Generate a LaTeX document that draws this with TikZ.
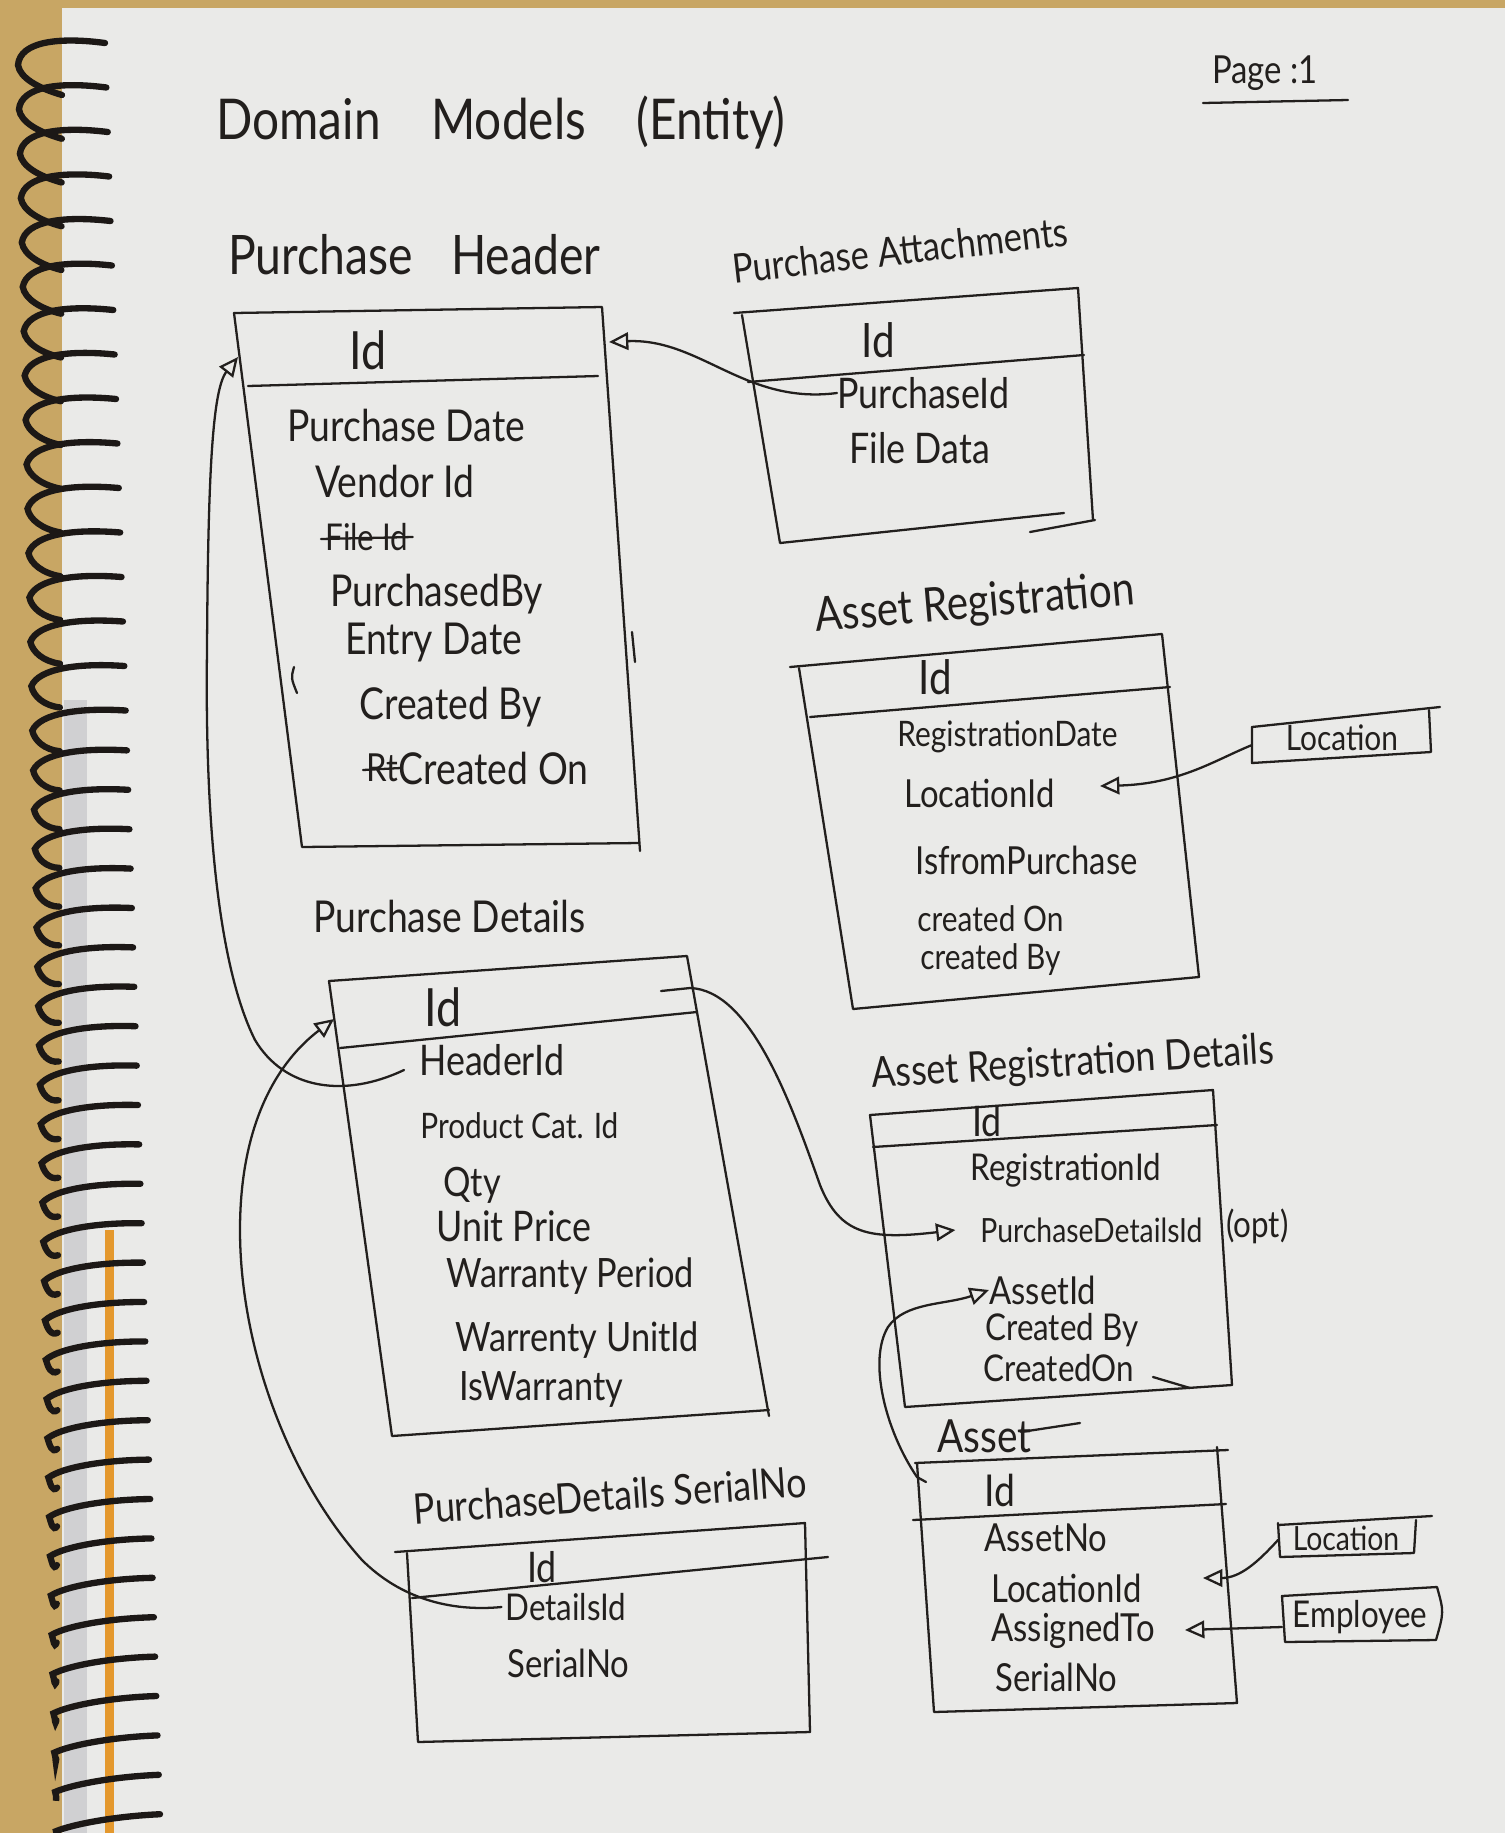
\documentclass[tikz,border=0pt]{standalone}
\usepackage{fontspec}
\setmainfont{Lato}[FakeStretch=0.85]
\usetikzlibrary{arrows.meta,calc}
\definecolor{paper}{RGB}{234,234,232}
\definecolor{card}{RGB}{200,166,100}
\definecolor{strip}{RGB}{208,208,210}
\definecolor{orangeln}{RGB}{228,152,45}
\definecolor{ink}{RGB}{34,31,29}
\definecolor{coilc}{RGB}{28,24,22}
\newcommand\fz[1]{\fontsize{#1}{#1}\selectfont}
\tikzset{
  pen/.style={draw=ink, line width=1.3pt, line cap=round, line join=round},
  conn/.style={pen, -{Triangle[open,length=11pt,width=10pt]}},
  fld/.style={font=\fz{#1}, text=ink, inner sep=0pt, anchor=west},
  fld/.default=23,
  keyid/.style={font=\fz{#1}, text=ink, inner sep=0pt},
  keyid/.default=26,
  lbl/.style={font=\fz{#1}, text=ink, inner sep=0pt},
  lbl/.default=26,
  coil/.style={draw=coilc, line width=3.6pt, line cap=round},
}
\begin{document}
\begin{tikzpicture}[x=0.02cm,y=-0.02cm]
\useasboundingbox (0,0) rectangle (1505,1833);
% ---------- page and binding ----------
\fill[card] (0,0) rectangle (1505,1833);
\fill[paper] (62,8) rectangle (1505,1833);
\fill[strip] (64,700) rectangle (87,1833);
\fill[orangeln] (105,1230) rectangle (114,1833);
\foreach \i in {0,...,43}{
  \pgfmathsetmacro\yy{\i<16 ? 43+44.5*\i : 711+39.4*(\i-15)}
  \pgfmathsetmacro\t{(\yy-43)/1771}
  \pgfmathsetmacro\xh{105+55*\t}
  \pgfmathsetmacro\xl{18+38*\t}
  \pgfmathsetmacro\s{1-\t}
  \draw[coil] (\xh,\yy) .. controls (\xh-45,\yy-6+8*\t) and (\xl+2+15*\t,\yy-2+12*\t) .. (\xl,\yy+22-5*\t)
     .. controls (\xl+2,\yy+22+13*\s) and (\xl+20*\s,\yy+30+15*\s) .. (\xl+44*\s,\yy+22+30*\s);
}
% ---------- headings ----------
\node[lbl=32, anchor=west] (title) at (216,123) {Domain\hspace{0.9em}Models\hspace{0.9em}(Entity)};
\node[lbl=22] (page) at (1265,73) {Page :1};
\coordinate (pg-ul1) at (1203,103);
\coordinate (pg-ul2) at (1348,100);
\draw[pen] (pg-ul1) -- (pg-ul2);

% ---------- Purchase Header ----------
\node[lbl=31, anchor=west] (ph-lbl) at (228,255) {Purchase\hspace{0.7em}Header};
\coordinate (ph-tl) at (234,313);
\coordinate (ph-tr) at (602,307);
\coordinate (ph-br) at (639,843);
\coordinate (ph-bl) at (302,847);
\coordinate (ph-sl) at (248,386);
\coordinate (ph-sr) at (598,376);
\draw[pen] (ph-tl) -- (ph-tr) -- ($(ph-br)+(1,8)$);
\draw[pen] (ph-tl) -- (ph-bl) -- (ph-br);
\draw[pen] (ph-sl) -- (ph-sr);
\draw[pen] (632,632) -- (635,662);
\draw[pen] (294,667) .. controls (291,678) .. (297,693);
\node[keyid=30] (ph-id) at (368,350) {Id};
\node[fld=25] (ph-f1) at (287,425) {Purchase Date};
\node[fld=25] (ph-f2) at (315,481) {Vendor Id};
\node[fld=21] (ph-f3) at (325,537) {File Id};
\draw[pen] ([shift={(-4,2)}]ph-f3.west) -- ([shift={(4,0)}]ph-f3.east);
\node[fld=25] (ph-f4) at (330,594) {PurchasedBy};
\node[fld=25] (ph-f5) at (345,643) {Entry Date};
\node[fld=25] (ph-f6) at (359,707) {Created By};
\node[fld=22] (ph-f7a) at (366,768) {Rt};
\draw[pen] ([shift={(-3,2)}]ph-f7a.west) -- ([shift={(2,0)}]ph-f7a.east);
\node[fld=25, anchor=west] (ph-f7) at (ph-f7a.east) {Created On};
\coordinate (ph-ain) at (609,342);
\coordinate (ph-ainl) at (238,357);

% ---------- Purchase Attachments ----------
\node[lbl=23, rotate=6.5] (pa-lbl) at (900,250) {Purchase Attachments};
\coordinate (pa-tl) at (734,313);
\coordinate (pa-tr) at (1078,288);
\coordinate (pa-br) at (1093,520);
\coordinate (pa-bl) at (780,543);
\draw[pen] (pa-tl) -- (pa-tr) -- (pa-br);
\draw[pen] (742,315) -- (pa-bl) -- (1064,513);
\draw[pen] (1030,532) -- (1095,520);
\draw[pen] (748,382) -- (1084,355);
\node[keyid=27] (pa-id) at (878,340) {Id};
\node[fld=24] (pa-pid) at (837,393) {PurchaseId};
\node[fld=24] (pa-fd) at (849,448) {File Data};

% ---------- Asset Registration ----------
\node[lbl=27, rotate=5] (ar-lbl) at (975,605) {Asset Registration};
\coordinate (ar-tl) at (790,667);
\coordinate (ar-tr) at (1162,634);
\coordinate (ar-br) at (1199,977);
\coordinate (ar-bl) at (853,1009);
\draw[pen] (ar-tl) -- (ar-tr) -- (ar-br);
\draw[pen] (799,668) -- (ar-bl) -- (ar-br);
\draw[pen] (810,717) -- (1170,687);
\node[keyid=27] (ar-id) at (935,677) {Id};
\node[fld=20] (ar-f1) at (897,737) {RegistrationDate};
\node[fld=22] (ar-f2) at (904,793) {LocationId};
\node[fld=22] (ar-f3) at (915,860) {IsfromPurchase};
\node[fld=20] (ar-f4) at (917,919) {created On};
\node[fld=20] (ar-f5) at (920,960) {created By};
\coordinate (ar-loc-in) at (1100,786);
% Location box (registration)
\draw[pen] (1252,727) -- (1440,707);
\draw[pen] (1252,727) -- (1252,763) -- (1431,752) -- (1429,710);
\node[lbl=20] (loc1) at (1342,738) {Location};
\coordinate (loc1-l) at (1252,745);

% ---------- Purchase Details ----------
\node[lbl=25, anchor=west] (pd-lbl) at (313,916) {Purchase Details};
\coordinate (pd-tl) at (329,981);
\coordinate (pd-tr) at (687,956);
\coordinate (pd-br) at (769,1410);
\coordinate (pd-bl) at (392,1436);
\draw[pen] (pd-tl) -- (pd-tr) -- ($(pd-br)+(0,6)$);
\draw[pen] (pd-tl) -- (pd-bl) -- (pd-br);
\draw[pen] (340,1048) -- (697,1012);
\node[keyid=30] (pd-id) at (443,1007) {Id};
\node[fld=24] (pd-f1) at (419,1060) {HeaderId};
\node[fld=20] (pd-f2) at (420,1126) {Product Cat. Id};
\node[fld=23] (pd-f3) at (443,1185) {Qty};
\node[fld=24] (pd-f4) at (436,1226) {Unit Price};
\node[fld=23] (pd-f5) at (446,1276) {Warranty Period};
\node[fld=23] (pd-f6) at (455,1340) {Warrenty UnitId};
\node[fld=23] (pd-f7) at (459,1389) {IsWarranty};
\coordinate (pd-ain) at (334,1019);
\coordinate (pd-idr) at (661,991);

% ---------- Asset Registration Details ----------
\node[lbl=24, rotate=3.5] (ard-lbl) at (1073,1064) {Asset Registration Details};
\coordinate (ard-tl) at (870,1115);
\coordinate (ard-tr) at (1213,1090);
\coordinate (ard-br) at (1232,1385);
\coordinate (ard-bl) at (905,1407);
\draw[pen] (ard-tl) -- (ard-tr) -- (ard-br);
\draw[pen] (ard-tl) -- (ard-bl) -- (ard-br);
\draw[pen] (1153,1377) -- (1190,1388);
\draw[pen] (873,1147) -- (1217,1125);
\node[keyid=24] (ard-id) at (987,1121) {Id};
\node[fld=21] (ard-f1) at (970,1170) {RegistrationId};
\node[fld=19] (ard-f2) at (980,1230) {PurchaseDetailsId};
\node[fld=21] (ard-opt) at (1226,1226) {(opt)};
\node[fld=22] (ard-f3) at (989,1290) {AssetId};
\node[fld=21] (ard-f4) at (985,1330) {Created By};
\node[fld=21] (ard-f5) at (983,1368) {CreatedOn};

% ---------- Asset ----------
\node[lbl=26, anchor=west] (as-lbl) at (937,1436) {Asset};
\draw[pen] (1021,1432) -- (1080,1423);
\coordinate (as-tl) at (915,1463);
\coordinate (as-tr) at (1228,1450);
\coordinate (as-br) at (1237,1703);
\coordinate (as-bl) at (934,1712);
\draw[pen] (as-tl) -- (as-tr);
\draw[pen] (1217,1447) -- (as-br) -- (as-bl) -- (917,1463);
\draw[pen] (913,1520) -- (1226,1504);
\node[keyid=25] (as-id) at (1000,1490) {Id};
\node[fld=22] (as-f1) at (984,1538) {AssetNo};
\node[fld=22] (as-f2) at (991,1588) {LocationId};
\node[fld=22] (as-f3) at (991,1631) {AssignedTo};
\node[fld=22] (as-f4) at (995,1677) {SerialNo};
\coordinate (as-link) at (926,1482);
\coordinate (as-loc-in) at (1203,1578);
\coordinate (as-asg-in) at (1185,1630);
% Location box (asset)
\draw[pen] (1278,1525) -- (1432,1516);
\draw[pen] (1278,1523) -- (1280,1557) -- (1414,1553) -- (1416,1520);
\node[lbl=19] (loc2) at (1346,1538) {Location};
\coordinate (loc2-l) at (1278,1540);
% Employee box
\draw[pen] (1282,1596) -- (1437,1587) .. controls (1444,1612) .. (1436,1640) -- (1285,1642) -- cycle;
\node[lbl=21] (emp) at (1360,1617) {Employee};
\coordinate (emp-l) at (1282,1627);

% ---------- PurchaseDetails SerialNo ----------
\node[lbl=24, rotate=4] (pdsn-lbl) at (610,1495) {PurchaseDetails SerialNo};
\coordinate (pdsn-tl) at (395,1552);
\coordinate (pdsn-tr) at (805,1523);
\coordinate (pdsn-br) at (810,1732);
\coordinate (pdsn-bl) at (418,1742);
\draw[pen] (pdsn-tl) -- (pdsn-tr) -- (pdsn-br);
\draw[pen] (407,1553) -- (pdsn-bl) -- (pdsn-br);
\draw[pen] (412,1598) -- (828,1557);
\node[keyid=24] (pdsn-id) at (542,1567) {Id};
\node[fld=21] (pdsn-f1) at (505,1607) {DetailsId};
\node[fld=22] (pdsn-f2) at (507,1663) {SerialNo};

% ---------- connectors ----------
\draw[conn] (pa-pid.west) .. controls (745,405) and (700,338) .. (ph-ain);
\draw[conn] ([shift={(-15,10)}]pd-f1.west) .. controls (345,1098) and (285,1090) .. (255,1040)
   .. controls (215,960) and (205,800) .. (207,650) .. controls (208,480) and (212,390) .. (ph-ainl);
\draw[conn] ([xshift=-2]pdsn-f1.west) .. controls (450,1612) and (400,1598) .. (362,1560)
   .. controls (290,1480) and (240,1350) .. (240,1230) .. controls (240,1120) and (280,1060) .. (pd-ain);
\draw[conn] (pd-idr) -- (690,988) .. controls (750,990) and (790,1100) .. (820,1185)
   .. controls (840,1235) and (870,1240) .. ([xshift=-14]ard-f2.west);
\draw[conn] (as-link) -- (917,1477) .. controls (885,1430) and (868,1360) .. (888,1327)
   .. controls (905,1302) and (945,1305) .. (ard-f3.west);
\draw[conn] (loc1-l) .. controls (1215,760) and (1180,784) .. (ar-loc-in);
\draw[conn] (loc2-l) .. controls (1258,1562) and (1240,1578) .. (as-loc-in);
\draw[conn] (emp-l) -- (as-asg-in);
\end{tikzpicture}
\end{document}
